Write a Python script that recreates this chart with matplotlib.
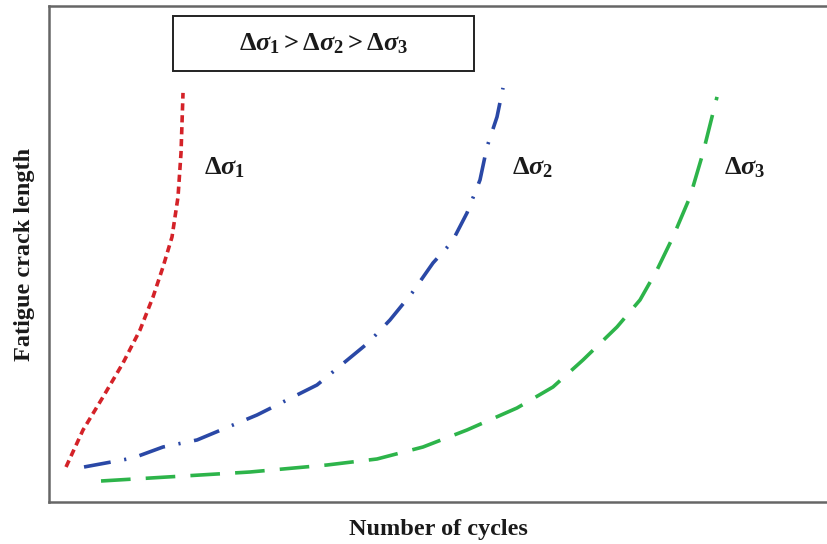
import matplotlib.pyplot as plt
from matplotlib.patches import Rectangle

plt.rcParams['font.family'] = ['Liberation Serif', 'DejaVu Serif']
plt.rcParams['mathtext.fontset'] = 'custom'
plt.rcParams['mathtext.rm'] = 'Liberation Serif:bold'
plt.rcParams['mathtext.it'] = 'Liberation Serif:italic:bold'
plt.rcParams['mathtext.bf'] = 'Liberation Serif:bold'

# crack growth curves (arbitrary units: cycles vs crack length)
x1 = [17, 34, 54, 74, 91, 104, 114, 123, 129, 132, 134]
y1 = [35, 72, 105, 139, 172, 205, 235, 265, 305, 349, 409]

x2 = [35, 84, 114, 148, 208, 268, 319, 341, 363, 384, 403, 418, 431, 438, 448, 454]
y2 = [35, 44, 55, 62, 87, 117, 159, 182, 209, 239, 260, 289, 322, 355, 385, 414]

x3 = [52, 201, 278, 328, 374, 418, 468, 504, 534, 568, 591, 608, 624, 641, 654, 668]
y3 = [21, 30, 37, 43, 55, 72, 94, 115, 142, 175, 202, 232, 265, 305, 349, 405]

labels = [r'$\Delta\sigma_1$', r'$\Delta\sigma_2$', r'$\Delta\sigma_3$']
box_text = r'$\Delta\sigma_1 > \Delta\sigma_2 > \Delta\sigma_3$'

fig = plt.figure(figsize=(8.28, 5.44), dpi=100)
ax = fig.add_axes([0.0592, 0.0772, 0.9408, 0.912])
ax.set_xlim(0, 779)
ax.set_ylim(0, 496)

lw = 2.6
l1, = ax.plot(x1, y1, color='#d42228', lw=lw)
l1.set_dashes((2.0, 1.3))
l2, = ax.plot(x2, y2, color='#2a48a6', lw=lw)
l2.set_dashes((7.5, 3.8, 0.6, 3.8))
l3, = ax.plot(x3, y3, color='#2db44a', lw=lw)
l3.set_dashes((8.2, 4.2))

for (x, y), lab in zip([(175, 334), (484, 334), (696, 334)], labels):
    ax.text(x, y, lab, fontsize=19, ha='center', va='center', color='#1a1a1a')

ax.add_patch(Rectangle((124, 431), 301, 55, fill=False, ec='#222222', lw=1.4))
ax.text(274.5, 458.5, box_text, fontsize=19, ha='center', va='center', color='#1a1a1a')

ax.set_xticks([])
ax.set_yticks([])
for side in ['left', 'bottom', 'top']:
    ax.spines[side].set_color('#666666')
    ax.spines[side].set_linewidth(1.8)
ax.spines['right'].set_visible(False)

ax.set_xlabel('Number of cycles', fontsize=17.5, fontweight='bold', labelpad=12, color='#1a1a1a')
ax.set_ylabel('Fatigue crack length', fontsize=17.5, fontweight='bold', labelpad=10, color='#1a1a1a')

fig.savefig('out.png', dpi=100)
